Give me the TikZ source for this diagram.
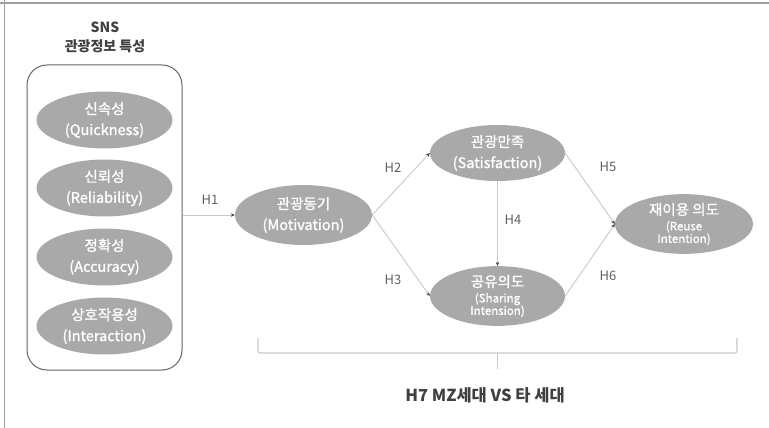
\documentclass[tikz,border=0pt]{standalone}
\usepackage{fontspec}
\setmainfont{Noto Sans CJK KR}
\newfontfamily\ovf[FakeBold=1.2]{Noto Sans CJK KR}
\newfontfamily\ttlf[LetterSpace=6]{Noto Sans CJK KR}
\usetikzlibrary{shapes.geometric,arrows.meta}
\definecolor{ellgray}{HTML}{A9A9A9}
\definecolor{linegray}{HTML}{C8C8C8}
\definecolor{labgray}{HTML}{606060}
\definecolor{framegray}{HTML}{A0A0A0}
\definecolor{titlegray}{HTML}{404040}
\begin{document}
\begin{tikzpicture}[x=1pt,y=-1pt,
  oval/.style={ellipse, fill=ellgray, text=white, minimum width=136pt, minimum height=57pt, inner sep=0pt, align=center, font=\ovf\fontsize{14.5}{21}\selectfont},
  conn/.style={draw=linegray, line width=0.9pt, -{Stealth[length=4pt,width=3.5pt,color=black!75]}},
  hlab/.style={text=labgray, font=\fontsize{13}{15}\selectfont},
  twolevel/.style={font=\ovf\fontsize{11.5}{12.5}\selectfont}]
\useasboundingbox (0,0) rectangle (769,428);
% frame
\draw[framegray, line width=1.5pt] (0,3) -- (769,3);
\draw[framegray, line width=1.2pt] (4.5,0) -- (4.5,428);
% title
\node[text=titlegray, align=center, font=\bfseries\fontsize{14}{19}\selectfont] (title) at (105,37) {SNS\\관광정보 특성};
% group box
\node[draw=black!60, line width=1pt, rounded corners=20pt, minimum width=155pt, minimum height=305pt, inner sep=0pt] (grp) at (104.5,217.5) {};
% left ovals
\node[oval] (q) at (104.5,120) {신속성\\(Quickness)};
\node[oval] (r) at (104.5,188) {신뢰성\\(Reliability)};
\node[oval] (a) at (104.5,257) {정확성\\(Accuracy)};
\node[oval] (i) at (104.5,326) {상호작용성\\(Interaction)};
% middle
\node[oval, minimum width=137pt, minimum height=60pt] (m) at (303.5,215) {관광동기\\(Motivation)};
\node[oval, minimum width=135pt, minimum height=56pt] (s) at (497.5,153) {관광만족\\(Satisfaction)};
\node[oval, twolevel, minimum width=135pt, minimum height=58pt] (sh) at (497.5,296) {{\fontsize{14.5}{12.5}\selectfont 공유의도}\\[3pt](Sharing\\Intension)};
\node[oval, twolevel, minimum width=138pt, minimum height=54pt] (re) at (684,224) {{\fontsize{14.5}{12.5}\selectfont 재이용 의도}\\[3pt](Reuse\\Intention)};
% connectors
\draw[conn] (grp.east |- m.west) -- (m.west);
\draw[conn] (m.east) -- (s.west);
\draw[conn] (m.east) -- (sh.west);
\draw[conn] (s.south) -- (sh.north);
\draw[conn] (s.east) -- (re.west);
\draw[conn] (sh.east) -- (re.west);
% labels
\node[hlab] (h1) at (210,200) {H1};
\node[hlab] (h2) at (393,168) {H2};
\node[hlab] (h3) at (393,280) {H3};
\node[hlab] (h4) at (513,220) {H4};
\node[hlab] (h5) at (608,167) {H5};
\node[hlab] (h6) at (608,276) {H6};
% bracket
\coordinate (bl) at (258,338);
\coordinate (br) at (737,338);
\coordinate (bm) at (497.5,353);
\coordinate (bt) at (497.5,369);
\draw[linegray, line width=1.2pt, rounded corners=2pt] (bl) -- (bl |- bm) -- (br |- bm) -- (br);
\draw[linegray, line width=1.2pt] (bm) -- (bt);
\node[text=titlegray, font=\bfseries\fontsize{16.5}{18}\selectfont] (h7) at (485,395) {H7 MZ세대 VS 타 세대};
\end{tikzpicture}
\end{document}
